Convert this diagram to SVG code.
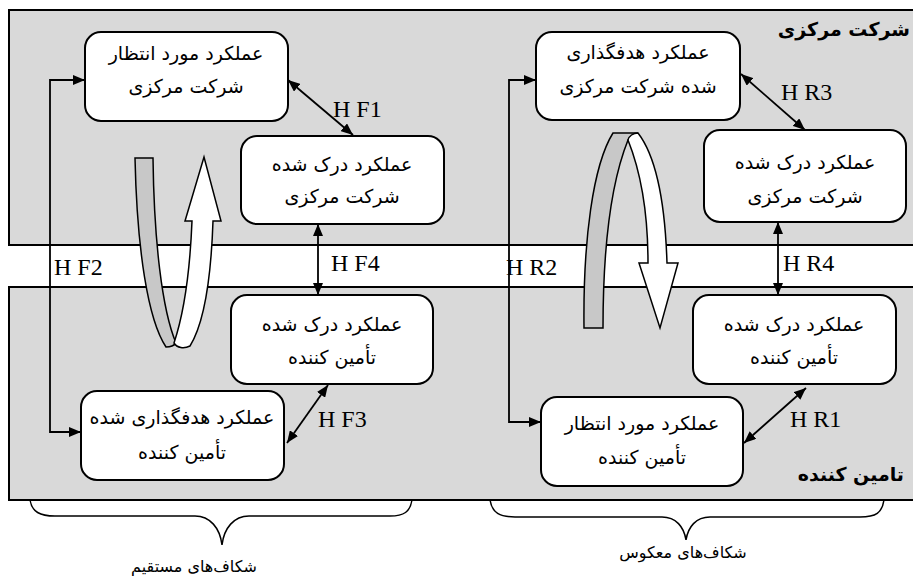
<svg xmlns="http://www.w3.org/2000/svg" width="913" height="583" viewBox="0 0 913 583">
<style>
.panel{fill:#d9d9d9;stroke:#000;stroke-width:2}
.node rect{fill:#fff;stroke:#000;stroke-width:2}
.fa{font-family:"DejaVu Sans",sans-serif;font-size:19px;fill:#000;text-anchor:middle}
.lab{font-family:"Liberation Serif",serif;font-size:24px;fill:#000}
.title{font-family:"DejaVu Sans",sans-serif;font-size:19px;font-weight:bold;fill:#000}
.con{fill:none;stroke:#000;stroke-width:1.8;marker-start:url(#ah);marker-end:url(#ah)}
.brace{fill:none;stroke:#000;stroke-width:1.5}
.ribbon-g{fill:#c8c8c8;stroke:#000;stroke-width:1.5}
.ribbon-w{fill:#fff;stroke:#000;stroke-width:1.5}
</style>
<defs>
<marker id="ah" viewBox="0 0 12 10" refX="12" refY="5" markerWidth="12" markerHeight="10" orient="auto-start-reverse" markerUnits="userSpaceOnUse"><path d="M0,0 L12,5 L0,10 Z" fill="#000"/></marker>
</defs>
<rect width="913" height="583" fill="#fff"/>
<g id="panels">
<rect class="panel" x="9" y="10" width="920" height="235"/>
<rect class="panel" x="9" y="287" width="920" height="213"/>
<text class="title" x="910" y="36" text-anchor="end">شرکت مرکزی</text>
<text class="title" x="904" y="481" text-anchor="end">تامین کننده</text>
</g>
<g id="loops">
<path class="ribbon-g" d="M135,158 L153,158 C154,240 162,310 176,343 C173,347 169,347 166,347 C148,320 137,250 135,158 Z"/>
<path class="ribbon-w" d="M174,343 C185,310 190,270 192,221 L185,221 L204,157 L221,221 L213,221 C211,280 203,325 190,346 C184,349 177,348 174,343 Z"/>
<path class="ribbon-g" d="M584,328 C583,240 593,165 613,133 L638,133 C633,135 629,137 628,140 C612,180 603,240 603,328 Z"/>
<path class="ribbon-w" d="M628,140 C640,170 648,210 648,263 L639,263 L660,328 L678,263 L667,263 C665,200 655,155 638,133 C633,133 629,136 628,140 Z"/>
</g>
<g id="connectors">
<path class="con" d="M288,80 L353,135"/>
<path class="con" d="M85,80 H50 V432 H81"/>
<path class="con" d="M318,224 V295"/>
<path class="con" d="M328,385 L287,443"/>
<path class="con" d="M741,74 L805,130"/>
<path class="con" d="M536,80 H509 V422 H541"/>
<path class="con" d="M778,222 V295"/>
<path class="con" d="M806,388 L744,443"/>
<text class="lab" x="333" y="117">H F1</text>
<text class="lab" x="54" y="275">H F2</text>
<text class="lab" x="331" y="271">H F4</text>
<text class="lab" x="318" y="427">H F3</text>
<text class="lab" x="781" y="100">H R3</text>
<text class="lab" x="506" y="275">H R2</text>
<text class="lab" x="783" y="271">H R4</text>
<text class="lab" x="790" y="427">H R1</text>
</g>
<g id="n1" class="node"><rect x="85" y="32" width="203" height="89" rx="16"/><text class="fa" x="186" y="60">عملکرد مورد انتظار</text><text class="fa" x="186" y="93">شرکت مرکزی</text></g>
<g id="n2" class="node"><rect x="241" y="136" width="203" height="88" rx="16"/><text class="fa" x="342" y="171">عملکرد درک شده</text><text class="fa" x="342" y="203">شرکت مرکزی</text></g>
<g id="n3" class="node"><rect x="536" y="32" width="204" height="88" rx="16"/><text class="fa" x="638" y="59">عملکرد هدفگذاری</text><text class="fa" x="638" y="93">شده شرکت مرکزی</text></g>
<g id="n4" class="node"><rect x="704" y="130" width="202" height="92" rx="16"/><text class="fa" x="805" y="169">عملکرد درک شده</text><text class="fa" x="805" y="203">شرکت مرکزی</text></g>
<g id="n5" class="node"><rect x="231" y="295" width="202" height="89" rx="16"/><text class="fa" x="332" y="331">عملکرد درک شده</text><text class="fa" x="332" y="364">تأمین کننده</text></g>
<g id="n6" class="node"><rect x="81" y="391" width="203" height="89" rx="16"/><text class="fa" x="182" y="424">عملکرد هدفگذاری شده</text><text class="fa" x="182" y="459">تأمین کننده</text></g>
<g id="n7" class="node"><rect x="693" y="295" width="203" height="89" rx="16"/><text class="fa" x="794" y="331">عملکرد درک شده</text><text class="fa" x="794" y="364">تأمین کننده</text></g>
<g id="n8" class="node"><rect x="541" y="397" width="202" height="89" rx="16"/><text class="fa" x="642" y="430">عملکرد مورد انتظار</text><text class="fa" x="642" y="464">تأمین کننده</text></g>
<g id="braces">
<path class="brace" d="M30,500 C32,512 40,516 55,516 L195,516 C210,516 220,528 222,545 C224,528 234,516 249,516 L390,516 C404,516 410,512 412,500"/>
<path class="brace" d="M490,500 C492,513 500,517 515,517 L662,517 C676,517 684,527 686,540 C688,527 696,517 710,517 L860,517 C876,517 882,513 884,500"/>
<text class="fa" x="194" y="572" style="font-size:16px">شکاف‌های مستقیم</text>
<text class="fa" x="683" y="558" style="font-size:16px">شکاف‌های معکوس</text>
</g>
</svg>
